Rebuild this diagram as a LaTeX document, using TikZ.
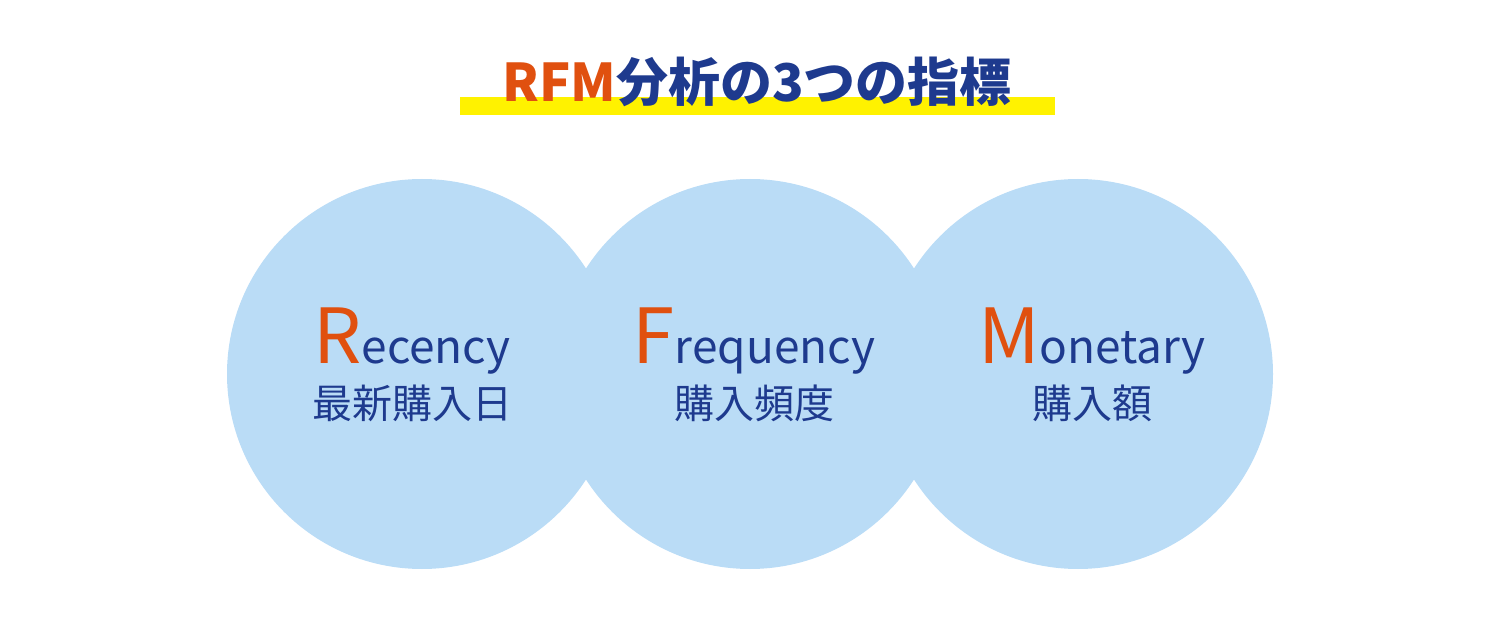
\documentclass[tikz,border=0pt]{standalone}
\usepackage{fontspec}
\setmainfont{Noto Sans CJK JP}
\definecolor{orng}{HTML}{E0500F}
\definecolor{navy}{HTML}{1E3A8E}
\definecolor{lblue}{HTML}{BADCF6}
\definecolor{ylw}{HTML}{FFF200}
\begin{document}
\begin{tikzpicture}[x=1pt,y=-1pt,
  circ/.style={fill=lblue,draw=none},
  en/.style={anchor=base,text=navy,font=\fontsize{46}{50}\selectfont,inner sep=0},
  jp/.style={anchor=base,text=navy,font=\fontsize{40}{44}\selectfont,inner sep=0}]
\useasboundingbox (0,0) rectangle (1500,620);
\fill[ylw] (460,97) rectangle (1055,115);
\node[anchor=base,inner sep=0,font=\fontsize{52}{56}\selectfont\bfseries] (title) at (757,102) {\textcolor{orng}{RFM}\textcolor{navy}{分析の3つの指標}};
\fill[circ] (422,374) circle (195);
\fill[circ] (750,374) circle (195);
\fill[circ] (1078,374) circle (195);
\node[en] (r) at (412,364) {\textcolor{orng}{\fontsize{76}{80}\selectfont R}ecency};
\node[jp] (rj) at (412,418) {最新購入日};
\node[en] (f) at (754,364) {\textcolor{orng}{\fontsize{76}{80}\selectfont F}requency};
\node[jp] (fj) at (754,418) {購入頻度};
\node[en] (m) at (1092,364) {\textcolor{orng}{\fontsize{76}{80}\selectfont M}onetary};
\node[jp] (mj) at (1092,418) {購入額};
\end{tikzpicture}
\end{document}
